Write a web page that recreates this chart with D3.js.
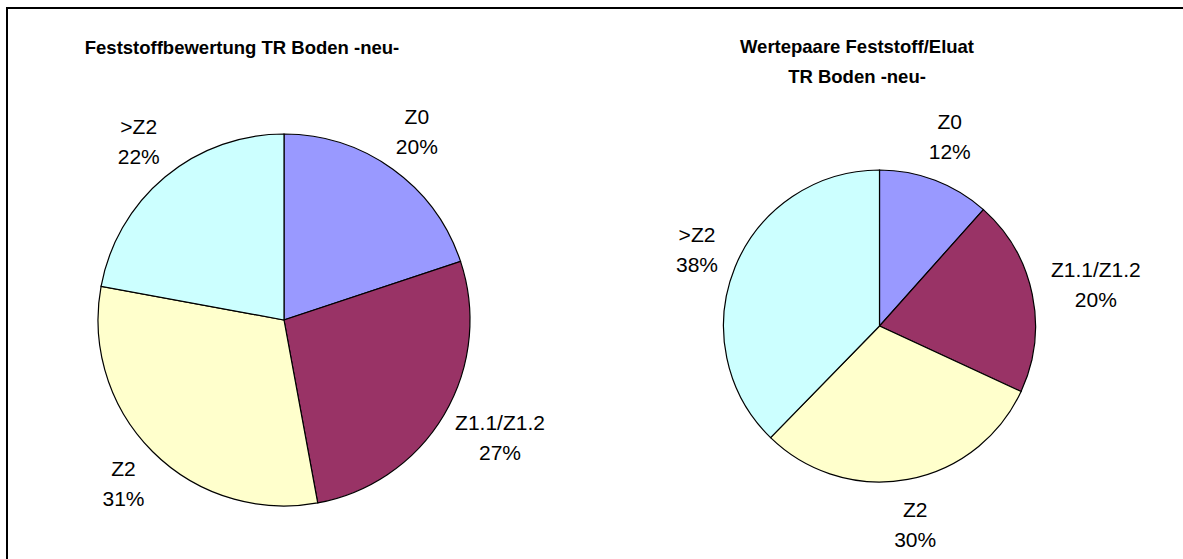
<!DOCTYPE html>
<html>
<head>
<meta charset="utf-8">
<script src="https://cdn.jsdelivr.net/npm/d3@7"></script>
<style>
  body { margin: 0; background: #fff; }
  text { font-family: Arial, "Liberation Sans", sans-serif; fill: #000; }
</style>
</head>
<body>
<div id="chart"></div>
<script>
// Kategorien und Anteile (in %)
const kategorien = ["Z0", "Z1.1/Z1.2", "Z2", ">Z2"];
const feststoff = [19.9, 27.2, 30.8, 22.1];
const wertepaare = [11.6, 20.3, 30.4, 37.7];
const farben = ["#9999FF", "#993366", "#FFFFCC", "#CCFFFF"];
const titelLinks = ["Feststoffbewertung TR Boden -neu-"];
const titelRechts = ["Wertepaare Feststoff/Eluat", "TR Boden -neu-"];

const width = 1183, height = 559;

let svg = d3.select("#chart").append("svg")
    .attr("width", width)
    .attr("height", height);

svg.append("rect")
    .attr("width", width).attr("height", height)
    .attr("fill", "#fff");

// Rahmen (rechts/unten abgeschnitten)
svg.append("rect")
    .attr("x", 7).attr("y", 8)
    .attr("width", width + 20).attr("height", height + 20)
    .attr("fill", "none")
    .attr("stroke", "#000")
    .attr("stroke-width", 2);

const color = d3.scaleOrdinal().domain(kategorien).range(farben);

function zeichnePie(werte, cx, cy, r, titel, titelX, titelY, titelSize) {

    let g = svg.append("g").attr("transform", `translate(${cx},${cy})`);

    let pie = d3.pie().sort(null).value(d => d.wert);
    let daten = pie(kategorien.map((k, i) => ({ kat: k, wert: werte[i] })));
    let summe = d3.sum(werte);

    let arc = d3.arc().innerRadius(0).outerRadius(r);

    g.selectAll(".slice")
        .data(daten)
        .join("path")
        .attr("class", "slice")
        .attr("d", arc)
        .attr("fill", d => color(d.data.kat))
        .attr("stroke", "#000")
        .attr("stroke-width", 1.2);

    // Beschriftungen ausserhalb, Richtung Segmentmitte
    const gap = 20, zeile = 30, halbH = 26;
    daten.forEach(d => {
        let a = (d.startAngle + d.endAngle) / 2;
        let ux = Math.sin(a), uy = -Math.cos(a);
        let lbl = g.append("text")
            .attr("text-anchor", "middle")
            .style("font-size", "21px");
        lbl.append("tspan").attr("x", 0).attr("dy", 0).text(d.data.kat);
        lbl.append("tspan").attr("x", 0).attr("dy", zeile)
            .text(Math.round(d.data.wert / summe * 100) + "%");
        let w = lbl.node().getBBox().width;
        let x = (r + gap) * ux + ux * w / 2;
        let y = (r + gap) * uy + uy * halbH;
        // Mitte der zwei Zeilen auf y legen
        lbl.attr("transform", `translate(${x},${y - zeile / 2 + 7})`);
    });

    let t = svg.append("text")
        .attr("text-anchor", "middle")
        .style("font-size", titelSize + "px")
        .style("font-weight", "bold");
    titel.forEach((s, i) => {
        t.append("tspan").attr("x", titelX).attr("y", titelY + i * 30).text(s);
    });
}

zeichnePie(feststoff, 284, 320, 186, titelLinks, 242, 54, 18.5);
zeichnePie(wertepaare, 879.5, 326, 156, titelRechts, 857, 53, 18.5);
</script>
</body>
</html>
